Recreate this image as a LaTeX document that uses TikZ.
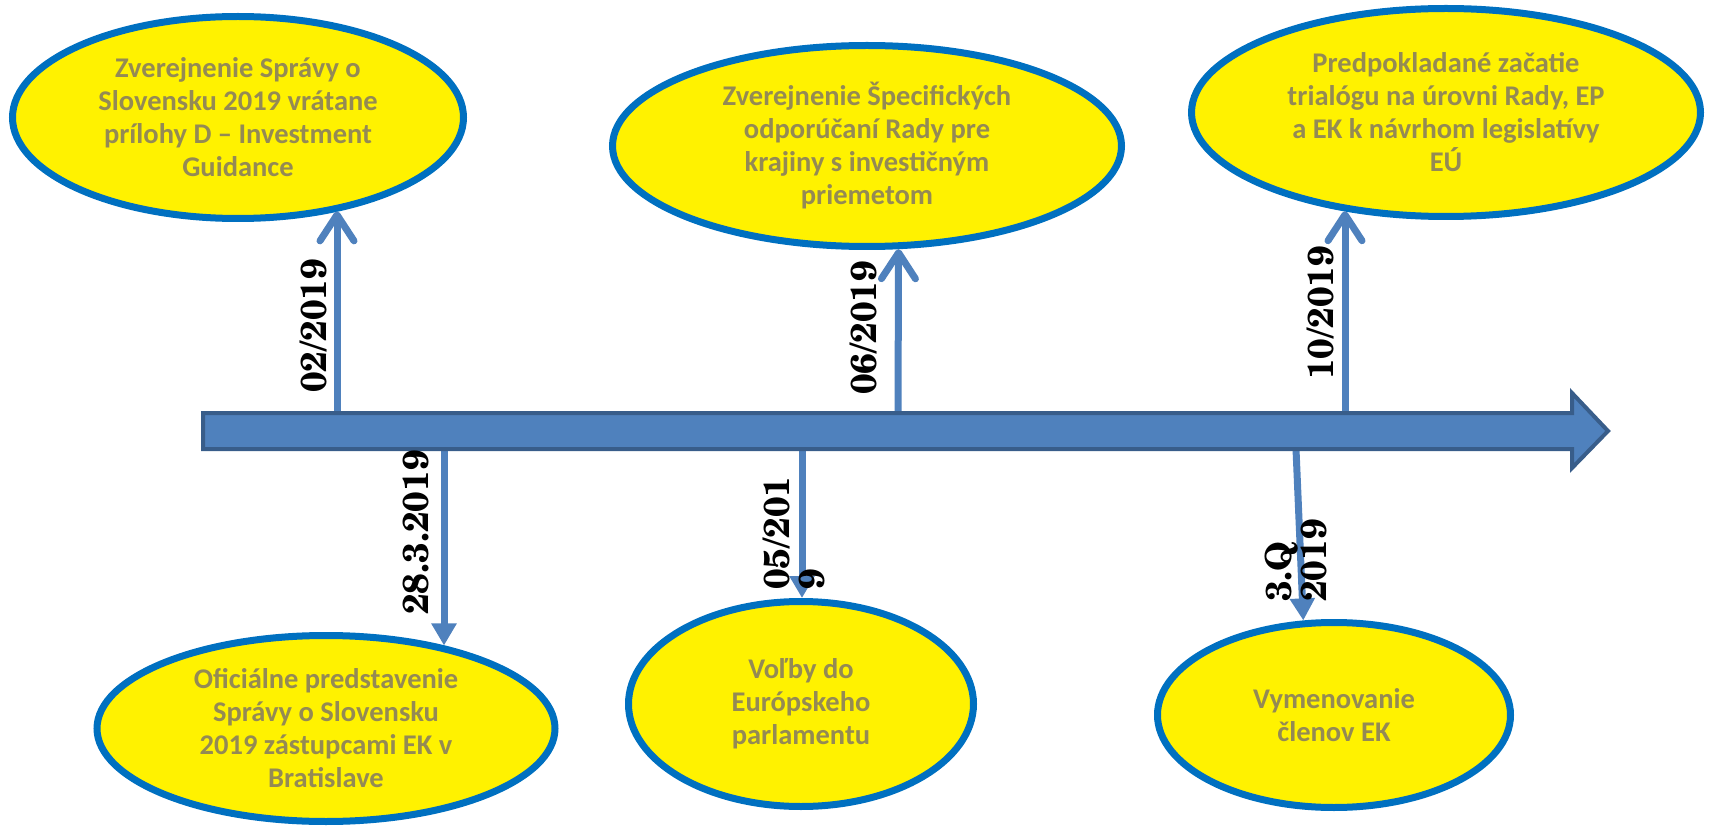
\documentclass[tikz,border=0pt]{standalone}
\usepackage{fontspec}
\newfontfamily\ellfont{Carlito}
\newfontfamily\labfont{TeX Gyre Schola}
\usetikzlibrary{shapes.geometric,arrows.meta}
\definecolor{barfill}{HTML}{4F81BD}
\definecolor{barline}{HTML}{385D8A}
\definecolor{ellline}{HTML}{0070C0}
\definecolor{elltext}{HTML}{948A54}
\tikzset{
  event/.style={ellipse, draw=ellline, fill=yellow, line width=7pt, inner sep=0pt,
    align=center, text=elltext, font=\ellfont\bfseries\fontsize{28.5}{33}\selectfont},
  uparrow/.style={draw=barfill, line width=7pt, -{Straight Barb[length=26pt,width=34pt,round]}},
  downarrow/.style={draw=barfill, line width=7pt, -{Triangle[length=22pt,width=24pt]}},
  datelabel/.style={rotate=90, inner sep=0pt, align=left,
    font=\labfont\bfseries\fontsize{36}{35}\selectfont},
  timebar/.style={fill=barfill, draw=barline, line width=4pt, line join=miter}
}
\begin{document}
\begin{tikzpicture}[x=1pt,y=-1pt]
\useasboundingbox (0,0) rectangle (1709,826);
% events
\node[event, minimum width=451pt, minimum height=202pt] (e1) at (238,117.5)
  {Zverejnenie Správy o\\Slovensku 2019 vrátane\\prílohy D – Investment\\Guidance};
\node[event, minimum width=509pt, minimum height=201pt] (e2) at (867,146)
  {Zverejnenie Špecifických\\odporúčaní Rady pre\\krajiny s investičným\\priemetom};
\node[event, minimum width=509pt, minimum height=208pt] (e3) at (1446,112.5)
  {Predpokladané začatie\\trialógu na úrovni Rady, EP\\a EK k návrhom legislatívy\\EÚ};
\node[event, minimum width=458pt, minimum height=186pt] (e4) at (326,728.5)
  {Oficiálne predstavenie\\Správy o Slovensku\\2019 zástupcami EK v\\Bratislave};
\node[event, minimum width=345pt, minimum height=205pt] (e5) at (801,704)
  {Voľby do\\Európskeho\\parlamentu};
\node[event, minimum width=353pt, minimum height=185pt] (e6) at (1334,715)
  {Vymenovanie\\členov EK};
% points on the time bar
\coordinate (a1) at (337,413);
\coordinate (a2) at (898,413);
\coordinate (a3) at (1345,413);
\coordinate (a4) at (444,449);
\coordinate (a5) at (802,449);
\coordinate (a6) at (1296,449);
% connectors
\draw[uparrow] (a1) -- (a1 |- e1.-43.4);
\draw[uparrow] (a2) -- (e2.-73.7);
\draw[uparrow] (a3) -- (a3 |- e3.-136.1);
\draw[downarrow] (a4) -- (a4 |- e4.35.2);
\draw[downarrow] (a5) -- (a5 |- e5.north);
\draw[downarrow] (a6) -- (e6.108.7);
% time bar
\draw[timebar] (203,413) -- (1572,413) -- (1572,393) -- (1608,431) -- (1572,468)
  -- (1572,449) -- (203,449) -- cycle;
% date labels
\node[datelabel, anchor=base west] (l1) at (326,393) {02/2019};
\node[datelabel, anchor=base west] (l2) at (876,395) {06/2019};
\node[datelabel, anchor=base west] (l3) at (1333,380) {10/2019};
\node[datelabel, anchor=base west] (l4) at (428,615) {28.3.2019};
\node[datelabel, anchor=north west] (l5) at (763,590) {05/201\\9};
\node[datelabel, anchor=north west] (l6) at (1265,602) {3.Q\\2019};
\end{tikzpicture}
\end{document}
